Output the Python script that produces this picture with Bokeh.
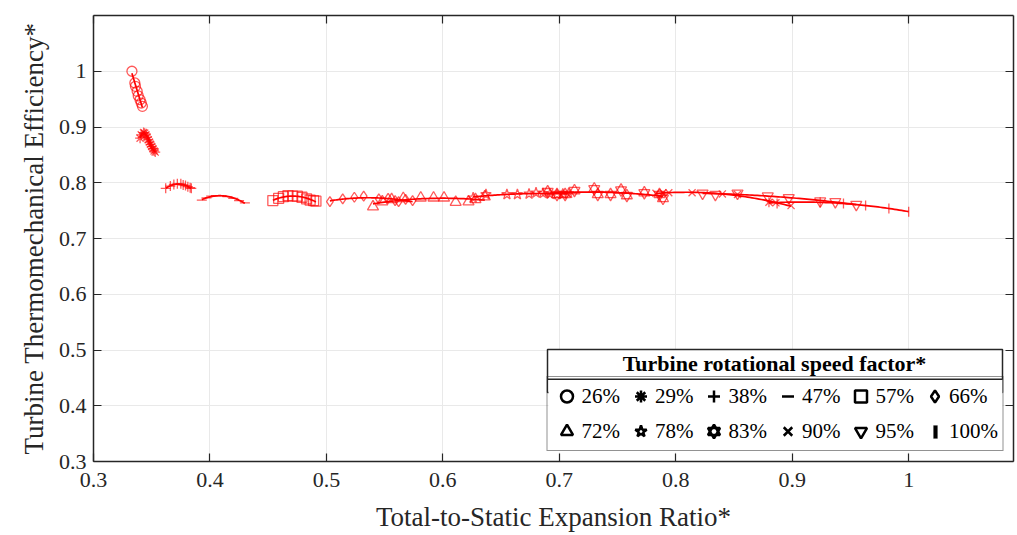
import numpy as np
from bokeh.plotting import figure
from bokeh.models import (Legend, LegendItem, FixedTicker, LinearAxis, Range1d,
                          BoxAnnotation, Label, CustomLabelingPolicy)
from bokeh.embed import file_html
from bokeh.resources import INLINE

# ---------------- data ----------------
x_ticks = [0.3, 0.4, 0.5, 0.6, 0.7, 0.8, 0.9, 1.0]
y_ticks = [0.3, 0.4, 0.5, 0.6, 0.7, 0.8, 0.9, 1.0]

x26 = [0.333, 0.3355, 0.336, 0.3375, 0.3384, 0.340, 0.341, 0.342]
y26 = [1.000, 0.979, 0.973, 0.964, 0.956, 0.949, 0.943, 0.937]

x29 = [0.340, 0.341, 0.343, 0.344, 0.345, 0.346, 0.347, 0.348, 0.349, 0.350, 0.351, 0.352, 0.353]
y29 = [0.880, 0.886, 0.890, 0.889, 0.886, 0.882, 0.877, 0.873, 0.869, 0.865, 0.861, 0.857, 0.855]

x38 = [0.362, 0.366, 0.369, 0.372, 0.375, 0.377, 0.379, 0.381, 0.383, 0.384]
y38 = [0.790, 0.794, 0.797, 0.798, 0.798, 0.796, 0.795, 0.793, 0.791, 0.790]

x47 = [0.393, 0.397, 0.401, 0.405, 0.410, 0.415, 0.420, 0.425, 0.430]
y47 = [0.769, 0.773, 0.776, 0.777, 0.777, 0.775, 0.772, 0.768, 0.764]

x57 = [0.454, 0.459, 0.463, 0.467, 0.471, 0.475, 0.479, 0.483, 0.486, 0.489, 0.491]
y57 = [0.768, 0.772, 0.775, 0.777, 0.776, 0.776, 0.774, 0.771, 0.769, 0.768, 0.767]

x66 = [0.503, 0.514, 0.524, 0.532, 0.545, 0.553, 0.559, 0.562, 0.568, 0.574]
y66 = [0.766, 0.771, 0.774, 0.776, 0.771, 0.772, 0.768, 0.766, 0.770, 0.768]

x72 = [0.540, 0.548, 0.556, 0.566, 0.581, 0.592, 0.601, 0.611, 0.622, 0.628, 0.636]
y72 = [0.757, 0.766, 0.770, 0.772, 0.773, 0.773, 0.773, 0.765, 0.766, 0.770, 0.775]

x78 = [0.626, 0.637, 0.655, 0.664, 0.674, 0.680, 0.686, 0.692, 0.698, 0.703, 0.708]
y78 = [0.773, 0.779, 0.779, 0.779, 0.780, 0.782, 0.781, 0.780, 0.779, 0.780, 0.781]

x83 = [0.690, 0.698, 0.705, 0.713, 0.730, 0.733, 0.744, 0.753, 0.758, 0.773, 0.786, 0.789]
y83 = [0.784, 0.779, 0.779, 0.786, 0.789, 0.779, 0.779, 0.787, 0.777, 0.782, 0.779, 0.772]

x90 = [0.783, 0.789, 0.794, 0.814, 0.840, 0.853, 0.880, 0.886, 0.899]
y90 = [0.781, 0.782, 0.782, 0.782, 0.780, 0.779, 0.765, 0.764, 0.759]

x95 = [0.823, 0.834, 0.853, 0.879, 0.897, 0.924, 0.937, 0.955]
y95 = [0.781, 0.779, 0.781, 0.776, 0.773, 0.767, 0.766, 0.761]

x100 = [0.880, 0.887, 0.924, 0.944, 0.963, 0.983, 1.000]
y100 = [0.765, 0.763, 0.765, 0.763, 0.759, 0.754, 0.748]

speed_labels = ["26%", "29%", "38%", "47%", "57%", "66%",
                "72%", "78%", "83%", "90%", "95%", "100%"]
series_x = [x26, x29, x38, x47, x57, x66, x72, x78, x83, x90, x95, x100]
series_y = [y26, y29, y38, y47, y57, y66, y72, y78, y83, y90, y95, y100]

# marker style per series: list of (marker, angle)
marker_sets = [
    [("circle", 0)], [("asterisk", 0)], [("cross", 0)], [("dash", 0)],
    [("square", 0)], [("diamond", 0)], [("triangle", 0)], [("star", 0)],
    [("triangle", 0), ("inverted_triangle", 0)], [("x", 0)],
    [("inverted_triangle", 0)], [("dash", np.pi / 2)],
]
fit_degree = [1, 3, 2, 2, 2, 2, 2, 2, 2, 2, 2, 2]

FONT = "Liberation Serif"
AX = "#262626"

p = figure(width=1017, height=535, output_backend="svg", toolbar_location=None,
           x_range=Range1d(0.3, 1.09), y_range=Range1d(0.3, 1.1),
           min_border_left=93, min_border_right=4, min_border_top=15,
           min_border_bottom=74, outline_line_color=None,
           background_fill_color="white", border_fill_color="white")

# ---------------- series ----------------
for xs, ys, mset, deg in zip(series_x, series_y, marker_sets, fit_degree):
    xs = np.asarray(xs); ys = np.asarray(ys)
    coef = np.polyfit(xs, ys, deg)
    xf = np.linspace(xs.min(), xs.max(), 60)
    p.line(xf, np.polyval(coef, xf), line_color="red", line_width=1.7)
    for m, ang in mset:
        sz = 11 if m in ("star", "triangle", "inverted_triangle") else 10
        p.scatter(xs, ys, marker=m, angle=ang, size=sz, fill_color=None,
                  line_color="red", line_alpha=0.65, line_width=1.3)

# ---------------- axes ----------------
for ax in (p.xaxis[0], p.yaxis[0]):
    ax.major_tick_in = 8
    ax.major_tick_out = 0
    ax.minor_tick_line_color = None
    ax.axis_line_color = AX
    ax.axis_line_width = 1.5
    ax.major_tick_line_color = AX
    ax.major_tick_line_width = 1.2
    ax.major_label_text_font = FONT
    ax.major_label_text_font_size = "22px"
    ax.major_label_text_color = AX
    ax.axis_label_text_font = FONT
    ax.axis_label_text_font_size = "27px"
    ax.axis_label_text_font_style = "normal"
    ax.axis_label_text_color = AX
    ax.major_label_overrides = {1.0: "1"}

p.xaxis.ticker = FixedTicker(ticks=x_ticks)
p.yaxis.ticker = FixedTicker(ticks=y_ticks)
p.xaxis.axis_label = "Total-to-Static Expansion Ratio*"
p.yaxis.axis_label = "Turbine Thermomechanical Efficiency*"
p.xaxis.major_label_standoff = 11
p.yaxis.major_label_standoff = 7
p.xaxis.axis_label_standoff = 12
p.yaxis.axis_label_standoff = 7

no_labels = CustomLabelingPolicy(code="""
for (const i of Array.from(indices)) { indices.unset(i) }
return indices
""")

for side, ticks in (("right", y_ticks), ("above", x_ticks)):
    ax = LinearAxis(ticker=FixedTicker(ticks=ticks))
    ax.major_tick_in = 8
    ax.major_tick_out = 0
    ax.minor_tick_line_color = None
    ax.axis_line_color = AX
    ax.axis_line_width = 1.5
    ax.major_tick_line_color = AX
    ax.major_tick_line_width = 1.2
    ax.major_label_policy = no_labels
    ax.major_label_text_font_size = "1px"
    ax.major_label_standoff = 0
    p.add_layout(ax, side)

p.grid.grid_line_color = "#e9e9e9"
p.grid.grid_line_width = 1
p.xgrid.ticker = FixedTicker(ticks=x_ticks)
p.ygrid.ticker = FixedTicker(ticks=y_ticks)

# ---------------- legend ----------------
# title row box (its lower edge is hidden under the legend backing)
title_box = BoxAnnotation(left=547, right=1002, top=349, bottom=392,
                          left_units="canvas", right_units="canvas",
                          top_units="canvas", bottom_units="canvas",
                          fill_color="white", fill_alpha=1.0,
                          line_color=AX, line_width=1.5, line_alpha=1.0)
p.add_layout(title_box)
# white backing for the (transparent) legend so a custom glyph can show through
legend_bg = BoxAnnotation(left=548, right=1002, top=379, bottom=452,
                          left_units="canvas", right_units="canvas",
                          top_units="canvas", bottom_units="canvas",
                          fill_color="white", fill_alpha=1.0, line_color=None)
p.add_layout(legend_bg)
# separator between the title row and the entries
separator = BoxAnnotation(left=547, right=1002, top=378, bottom=379.5,
                          left_units="canvas", right_units="canvas",
                          top_units="canvas", bottom_units="canvas",
                          fill_color=AX, fill_alpha=1.0, line_color=None)
p.add_layout(separator)
# vertical-bar legend glyph for the 100% entry (legend markers ignore angle)
bar_glyph = BoxAnnotation(left=933, right=937, top=425, bottom=438,
                          left_units="canvas", right_units="canvas",
                          top_units="canvas", bottom_units="canvas",
                          fill_color="black", fill_alpha=1.0,
                          line_color="black", line_width=0.5)
p.add_layout(bar_glyph)

items = []
for lab, mset in zip(speed_labels, marker_sets):
    rs = []
    for m, ang in mset:
        vertical = (m == "dash" and ang != 0)
        r = p.scatter(x=[np.nan], y=[np.nan], marker=m, angle=ang,
                      fill_color="black" if m == "asterisk" else None,
                      line_color="black", line_width=2.5,
                      line_alpha=0.0 if vertical else 1.0)
        rs.append(r)
    items.append(LegendItem(label=lab, renderers=rs))

legend = Legend(items=items, ncols=6, orientation="horizontal", location="bottom_right",
                margin=10, padding=4, spacing=5, glyph_width=30, glyph_height=30,
                label_standoff=0, label_text_font=FONT, label_text_font_size="21px",
                label_text_color="black", border_line_color=AX, border_line_width=1.5,
                background_fill_color="white", background_fill_alpha=0.0)
p.add_layout(legend)

title_lbl = Label(x=774, y=363, x_units="canvas", y_units="canvas",
                  text="Turbine rotational speed factor*", text_align="center",
                  text_baseline="middle", text_font=FONT, text_font_size="22px",
                  text_font_style="bold", text_color="black")
p.add_layout(title_lbl)

open("out.html", "w").write(file_html(p, INLINE))
